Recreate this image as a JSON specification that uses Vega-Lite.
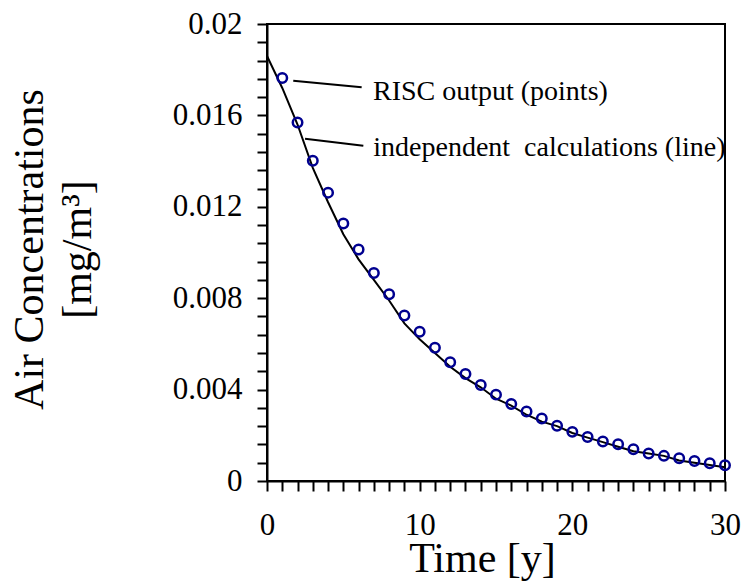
{
  "$schema": "https://vega.github.io/schema/vega-lite/v6.json",
  "width": 458,
  "height": 457,
  "autosize": "none",
  "padding": {"left": 267, "top": 24, "right": 18, "bottom": 100},
  "background": "white",
  "config": {
    "view": {"stroke": "black", "strokeWidth": 2},
    "font": "Liberation Serif"
  },
  "datasets": {
    "points": [
      {"t": 1, "v": 0.01764}, {"t": 2, "v": 0.01569}, {"t": 3, "v": 0.01402}, {"t": 4, "v": 0.01262},
      {"t": 5, "v": 0.01127}, {"t": 6, "v": 0.01013}, {"t": 7, "v": 0.0091}, {"t": 8, "v": 0.00817},
      {"t": 9, "v": 0.00724}, {"t": 10, "v": 0.00653}, {"t": 11, "v": 0.00583}, {"t": 12, "v": 0.0052},
      {"t": 13, "v": 0.00468}, {"t": 14, "v": 0.0042}, {"t": 15, "v": 0.00378}, {"t": 16, "v": 0.00337},
      {"t": 17, "v": 0.00304}, {"t": 18, "v": 0.00274}, {"t": 19, "v": 0.00242}, {"t": 20, "v": 0.00215},
      {"t": 21, "v": 0.00193}, {"t": 22, "v": 0.00173}, {"t": 23, "v": 0.00161}, {"t": 24, "v": 0.00139},
      {"t": 25, "v": 0.0012}, {"t": 26, "v": 0.0011}, {"t": 27, "v": 0.001}, {"t": 28, "v": 0.00088},
      {"t": 29, "v": 0.00078}, {"t": 30, "v": 0.00069}
    ],
    "line": [
      {"t": 0, "v": 0.0186}, {"t": 1, "v": 0.0172}, {"t": 2, "v": 0.0156}, {"t": 3, "v": 0.0137},
      {"t": 4, "v": 0.0122}, {"t": 5, "v": 0.0108}, {"t": 6, "v": 0.0097}, {"t": 7, "v": 0.0088},
      {"t": 8, "v": 0.0079}, {"t": 9, "v": 0.0069}, {"t": 10, "v": 0.0062}, {"t": 11, "v": 0.0056},
      {"t": 12, "v": 0.005}, {"t": 13, "v": 0.0045}, {"t": 14, "v": 0.0041}, {"t": 15, "v": 0.0036},
      {"t": 16, "v": 0.0033}, {"t": 17, "v": 0.0029}, {"t": 18, "v": 0.0026}, {"t": 19, "v": 0.0024},
      {"t": 20, "v": 0.0021}, {"t": 21, "v": 0.0019}, {"t": 22, "v": 0.0017}, {"t": 23, "v": 0.0015},
      {"t": 24, "v": 0.0013}, {"t": 25, "v": 0.0012}, {"t": 26, "v": 0.0011}, {"t": 27, "v": 0.0009},
      {"t": 28, "v": 0.0008}, {"t": 29, "v": 0.0007}, {"t": 30, "v": 0.0006}
    ],
    "leaders": [
      {"t": 1.72, "v": 0.01752, "t2": 6.2, "v2": 0.01723},
      {"t": 2.49, "v": 0.01498, "t2": 6.31, "v2": 0.01467}
    ],
    "notes": [
      {"t": 6.94, "v": 0.01669, "label": "RISC output (points)"},
      {"t": 6.96, "v": 0.01421, "label": "independent\u00a0 calculations (line)"}
    ]
  },
  "encoding": {
    "x": {
      "field": "t", "type": "quantitative",
      "scale": {"domain": [0, 30], "nice": false, "zero": false},
      "axis": {
        "values": [0,1,2,3,4,5,6,7,8,9,10,11,12,13,14,15,16,17,18,19,20,21,22,23,24,25,26,27,28,29,30],
        "labelExpr": "datum.value % 10 === 0 ? datum.label : ''",
        "grid": false,
        "domainColor": "black", "domainWidth": 2,
        "tickColor": "black", "tickWidth": 2, "tickSize": 10,
        "labelFont": "Liberation Serif", "labelFontSize": 31, "labelColor": "black",
        "labelPadding": 19, "labelFlush": false, "labelOverlap": false,
        "title": "Time [y]",
        "titleFont": "Liberation Serif", "titleFontSize": 42, "titleFontWeight": "normal", "titleColor": "black",
        "titleX": 215, "titleY": 90, "titleAlign": "center", "titleBaseline": "alphabetic",
        "encode": {
          "ticks": {
            "update": {
              "y": [{"test": "datum.value % 10 === 0", "value": -10}, {"value": 0}],
              "y2": [{"test": "datum.value % 10 === 0", "value": 10}, {"value": -8}]
            }
          }
        }
      }
    },
    "y": {
      "field": "v", "type": "quantitative",
      "scale": {"domain": [0, 0.02], "nice": false, "zero": false},
      "axis": {
        "values": [0, 0.0008, 0.0016, 0.0024, 0.0032, 0.004, 0.0048, 0.0056, 0.0064, 0.0072, 0.008, 0.0088, 0.0096, 0.0104, 0.0112, 0.012, 0.0128, 0.0136, 0.0144, 0.0152, 0.016, 0.0168, 0.0176, 0.0184, 0.0192, 0.02],
        "labelExpr": "abs(datum.value / 0.004 - round(datum.value / 0.004)) < 0.000001 ? '' + datum.value : ''",
        "grid": false,
        "domainColor": "black", "domainWidth": 2,
        "tickColor": "black", "tickWidth": 2, "tickSize": 10,
        "labelFont": "Liberation Serif", "labelFontSize": 31, "labelColor": "black",
        "labelPadding": 15, "labelFlush": false, "labelOverlap": false,
        "title": ["Air Concentrations", "[mg/m³]"],
        "titleFont": "Liberation Serif", "titleFontSize": 42, "titleFontWeight": "normal", "titleColor": "black",
        "titleAngle": -90, "titleLineHeight": 48,
        "titleX": -225, "titleY": 225, "titleAlign": "center", "titleBaseline": "alphabetic",
        "encode": {
          "ticks": {
            "update": {
              "x": [{"test": "abs(datum.value / 0.004 - round(datum.value / 0.004)) < 0.000001", "value": 10}, {"value": 0}],
              "x2": [{"test": "abs(datum.value / 0.004 - round(datum.value / 0.004)) < 0.000001", "value": -10}, {"value": 10}]
            }
          }
        }
      }
    }
  },
  "layer": [
    {
      "data": {"name": "line"},
      "mark": {"type": "line", "color": "black", "strokeWidth": 2}
    },
    {
      "data": {"name": "points"},
      "mark": {"type": "point", "shape": "circle", "filled": false, "color": "#000090", "size": 90, "strokeWidth": 2.5, "opacity": 1}
    },
    {
      "data": {"name": "leaders"},
      "mark": {"type": "rule", "color": "black", "strokeWidth": 2},
      "encoding": {
        "x2": {"field": "t2"},
        "y2": {"field": "v2"}
      }
    },
    {
      "data": {"name": "notes"},
      "mark": {"type": "text", "align": "left", "baseline": "alphabetic", "font": "Liberation Serif", "fontSize": 28, "color": "black"},
      "encoding": {
        "text": {"field": "label", "type": "nominal"}
      }
    }
  ]
}
